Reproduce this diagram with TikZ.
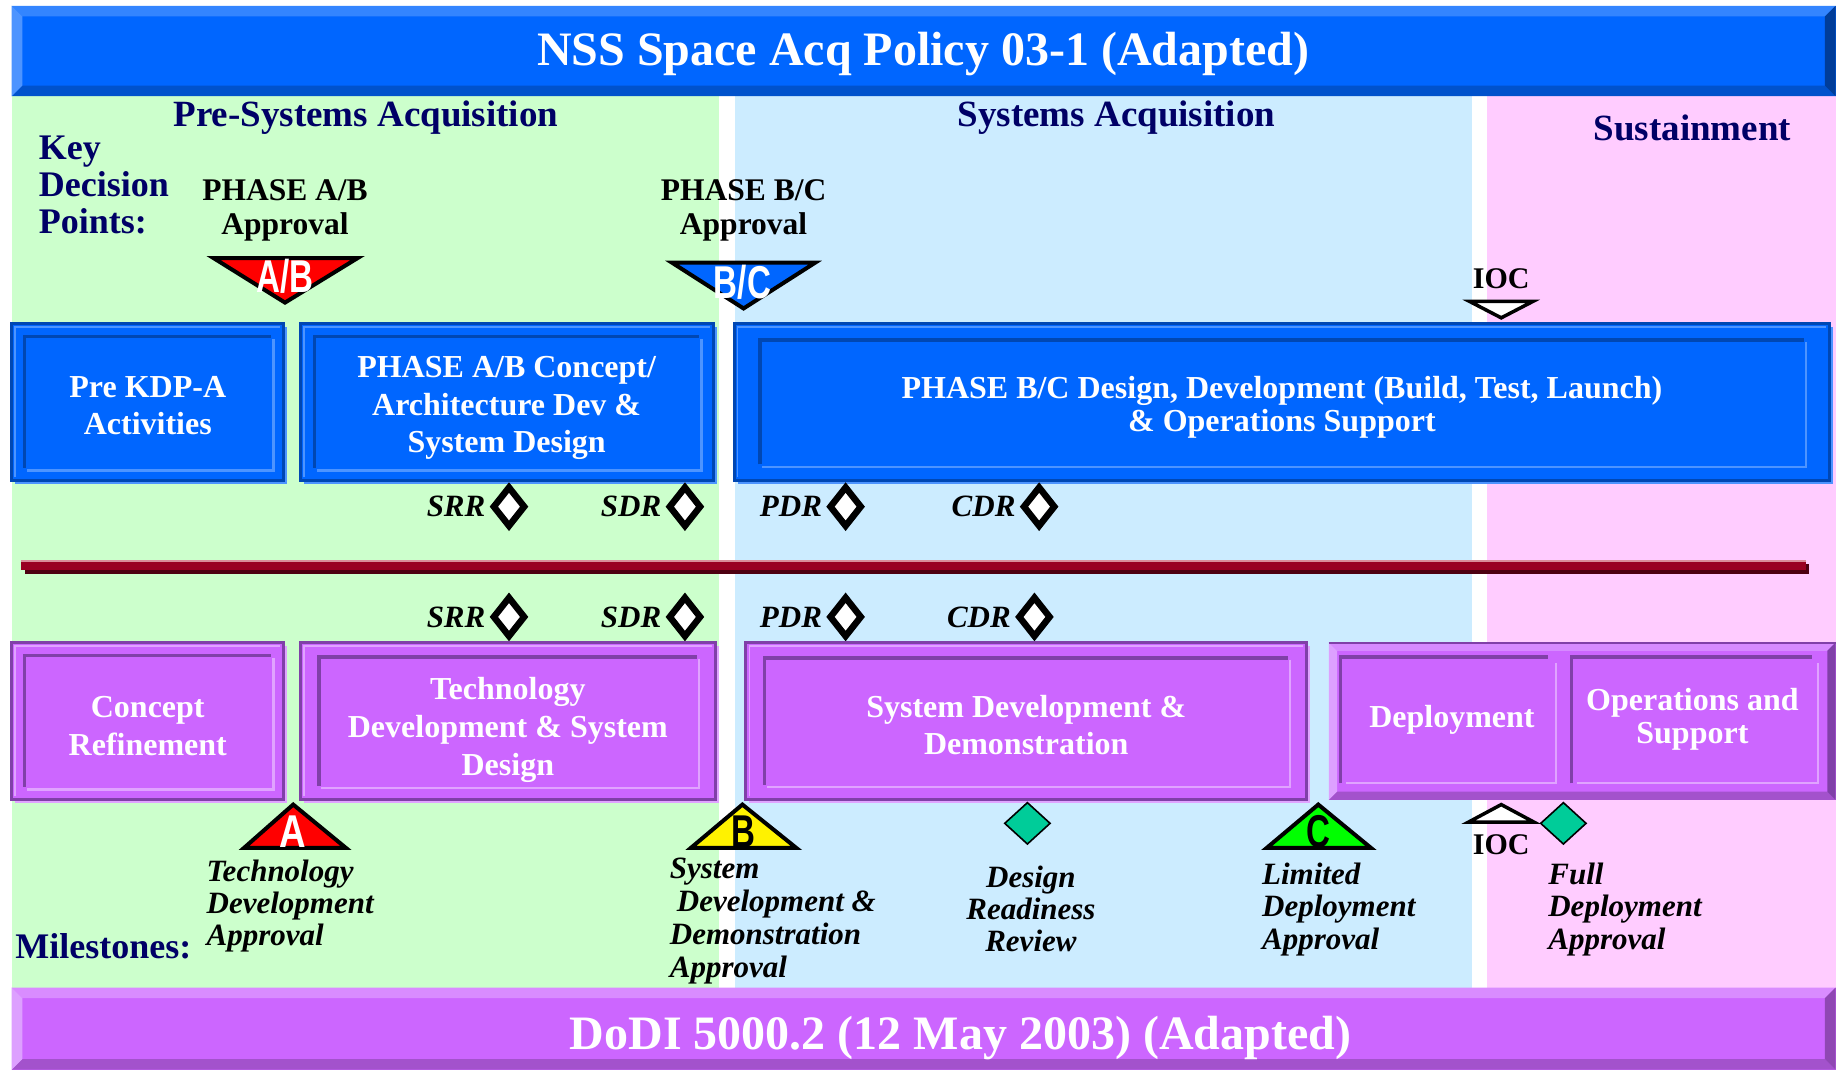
\documentclass[tikz,border=0pt]{standalone}
\usepackage{fontspec}
\setmainfont{Liberation Serif}
\newfontfamily\lettersans{Liberation Sans}
\usetikzlibrary{shapes.geometric}

% palette
\definecolor{navytxt}{HTML}{000066}
\definecolor{presys}{HTML}{CCFFCC}
\definecolor{sysacq}{HTML}{CCECFF}
\definecolor{sustain}{HTML}{FFCCFF}
\definecolor{nssmain}{HTML}{0066FF}
\definecolor{nsstop}{HTML}{3385FF}
\definecolor{nssleft}{HTML}{4D94FF}
\definecolor{nssbot}{HTML}{0052CC}
\definecolor{nssright}{HTML}{003D99}
\definecolor{dodmain}{HTML}{CC66FF}
\definecolor{dodtop}{HTML}{D98CFF}
\definecolor{dodleft}{HTML}{DDA0FF}
\definecolor{dodbot}{HTML}{A352CC}
\definecolor{dodright}{HTML}{8F47B3}
\definecolor{grpmain}{HTML}{CC66FF}
\definecolor{grptop}{HTML}{D68AFF}
\definecolor{grpleft}{HTML}{DDA0FF}
\definecolor{grpbot}{HTML}{A352CC}
\definecolor{grpright}{HTML}{8040A8}
\definecolor{bxdark}{HTML}{0047B3}
\definecolor{bxlight}{HTML}{4D94FF}
\definecolor{pxdark}{HTML}{8040A8}
\definecolor{pxlight}{HTML}{E0A3FF}
\definecolor{redbar}{HTML}{990022}
\definecolor{redhi}{HTML}{D98C99}
\definecolor{redlo}{HTML}{4D0011}
\definecolor{tealms}{HTML}{00CC99}
\definecolor{limeg}{HTML}{00FF00}

% bevelled banner: x1 y1 x2 y2 bevel-width colour-prefix
\newcommand\bevel[6]{%
  \fill[#6main] (#1,#2) rectangle (#3,#4);
  \fill[#6top] (#1,#2) -- (#3,#2) -- ({#3-#5},{#2+#5}) -- ({#1+#5},{#2+#5}) -- cycle;
  \fill[#6bot] (#1,#4) -- (#3,#4) -- ({#3-#5},{#4-#5}) -- ({#1+#5},{#4-#5}) -- cycle;
  \fill[#6left] (#1,#2) -- ({#1+#5},{#2+#5}) -- ({#1+#5},{#4-#5}) -- (#1,#4) -- cycle;
  \fill[#6right] (#3,#2) -- ({#3-#5},{#2+#5}) -- ({#3-#5},{#4-#5}) -- (#3,#4) -- cycle;
}

% phase box with an inset panel: x1 y1 x2 y2 inset-x inset-y fill dark light
\newcommand\bevbox[9]{%
  \fill[#9] ({#1+3},{#2+3}) rectangle ({#3+3},{#4+3});
  \fill[#7] (#1,#2) rectangle (#3,#4);
  \draw[#8, line width=3pt] (#1,#2) rectangle (#3,#4);
  \draw[#9, line width=1.5pt] ({#1+3},{#4-3}) -- ({#1+3},{#2+3}) -- ({#3-3},{#2+3});
  \draw[#8, line width=3.5pt] ({#1+#5},{#4-#6}) -- ({#1+#5},{#2+#6}) -- ({#3-#5},{#2+#6});
  \draw[#9, line width=2.5pt] ({#1+#5+2},{#4-#6+2}) -- ({#3-#5+2},{#4-#6+2}) -- ({#3-#5+2},{#2+#6+2});
}

\begin{document}
\begin{tikzpicture}[x=1.1728pt, y=-1.1728pt,
  txt/.style={inner sep=0pt},
  bannertxt/.style={txt, text=white, font=\fontsize{48}{50}\selectfont\bfseries},
  phasehd/.style={txt, text=navytxt, font=\fontsize{37}{40}\selectfont\bfseries},
  sidehd/.style={txt, text=navytxt, font=\fontsize{36}{37}\selectfont\bfseries, align=left},
  apprv/.style={txt, font=\fontsize{31.5}{34}\selectfont\bfseries, align=center},
  boxtxt/.style={txt, text=white, font=\fontsize{32}{37.5}\selectfont\bfseries, align=center},
  revlbl/.style={txt, font=\fontsize{31}{33}\selectfont\bfseries\itshape},
  mslbl/.style={txt, font=\fontsize{31}{32.3}\selectfont\bfseries\itshape, align=left},
  trilbl/.style={txt, font=\fontsize{46}{46}\selectfont\lettersans\bfseries},
  revdia/.style={diamond, draw=black, fill=white, line width=6.5pt, inner sep=0pt,
    minimum width=33pt, minimum height=41pt},
  msdia/.style={diamond, draw=black, fill=tealms, line width=1.6pt, inner sep=0pt,
    minimum width=46pt, minimum height=42pt},
  tri/.style={draw=black, line width=4pt},
]
\useasboundingbox (0,0) rectangle (1568,915);

% phase columns
\fill[presys] (10,82) rectangle (613,842);
\fill[sysacq] (627,82) rectangle (1255,842);
\fill[sustain] (1268,82) rectangle (1565,842);

% banners
\bevel{10}{5}{1565}{82}{9}{nss}
\bevel{10}{842}{1565}{912}{9}{dod}
\node[bannertxt] (nsstitle) at (787,46) {NSS Space Acq Policy 03-1 (Adapted)};
\node[bannertxt] (dodtitle) at (819,885) {DoDI 5000.2 (12 May 2003) (Adapted)};

% column headings
\node[phasehd] (presyshd) at (312,100) {Pre-Systems Acquisition};
\node[phasehd] (syshd) at (952,100) {Systems Acquisition};
\node[phasehd] (sushd) at (1443,109) {Sustainment};
\node[sidehd, anchor=west] (kdphd) at (33,158) {Key\\Decision\\Points:};

% key decision points
\node[apprv] (abapp) at (243,179) {PHASE A/B\\Approval};
\node[apprv] (bcapp) at (634,179) {PHASE B/C\\Approval};
\filldraw[tri, fill=red] (182,220) -- (305,220) -- (243,258) -- cycle;
\node[trilbl, text=white] (kdpab) at (243,236) {\scalebox{0.72}[1]{A/B}};
\filldraw[tri, fill=nssmain] (573,224) -- (695,224) -- (634,263) -- cycle;
\node[trilbl, text=white] (kdpbc) at (633,241) {\scalebox{0.72}[1]{B/C}};
\node[apprv, font=\fontsize{30}{32}\selectfont\bfseries] (iocup) at (1280,238) {IOC};
\filldraw[tri, line width=3.5pt, fill=white] (1253,257) -- (1307,257) -- (1280,271) -- cycle;

% NSS phases
\bevbox{10}{276}{242}{410}{11}{11}{nssmain}{bxdark}{bxlight}
\bevbox{256}{276}{608}{410}{12}{11}{nssmain}{bxdark}{bxlight}
\bevbox{626}{276}{1560}{410}{22}{14}{nssmain}{bxdark}{bxlight}
\node[boxtxt] (prekdp) at (126,346) {Pre KDP-A\\Activities};
\node[boxtxt] (phab) at (432,348) {PHASE A/B Concept/\\Architecture Dev \&\\System Design};
\node[boxtxt, font=\fontsize{32}{33}\selectfont\bfseries] (phbc) at (1093,347)
  {PHASE B/C Design, Development (Build, Test, Launch)\\\& Operations Support};

% design reviews, upper row
\node[revdia] (srrA) at (434,432) {};
\node[revdia] (sdrA) at (584,432) {};
\node[revdia] (pdrA) at (721,432) {};
\node[revdia] (cdrA) at (886,432) {};
\node[revlbl, anchor=east] (srrAl) at (414,432) {SRR};
\node[revlbl, anchor=east] (sdrAl) at (564,432) {SDR};
\node[revlbl, anchor=east] (pdrAl) at (701,432) {PDR};
\node[revlbl, anchor=east] (cdrAl) at (866,432) {CDR};

% separator bar
\fill[redlo] (21,481) rectangle (1542,489);
\fill[redbar] (18,478) rectangle (1540,486);
\fill[redhi] (18,477.5) rectangle (1540,479.3);

% design reviews, lower row
\node[revdia] (srrB) at (434,526) {};
\node[revdia] (sdrB) at (584,526) {};
\node[revdia] (pdrB) at (721,526) {};
\node[revdia] (cdrB) at (882,526) {};
\node[revlbl, anchor=east] (srrBl) at (414,526) {SRR};
\node[revlbl, anchor=east] (sdrBl) at (564,526) {SDR};
\node[revlbl, anchor=east] (pdrBl) at (701,526) {PDR};
\node[revlbl, anchor=east] (cdrBl) at (862,526) {CDR};

% DoDI phases
\bevbox{10}{548}{242}{682}{11}{11}{dodmain}{pxdark}{pxlight}
\bevbox{256}{548}{610}{682}{16}{12}{dodmain}{pxdark}{pxlight}
\bevbox{636}{548}{1114}{682}{16}{13}{dodmain}{pxdark}{pxlight}
\bevel{1133}{548}{1565}{682}{7}{grp}
\draw[pxdark, line width=2pt] (1133,548) -- (1565,548);
\draw[pxdark, line width=3.5pt] (1143,668) -- (1143,560) -- (1320,560);
\draw[pxlight, line width=2pt] (1148,668) -- (1327,668) -- (1327,565);
\draw[pxdark, line width=3.5pt] (1340,668) -- (1340,560) -- (1545,560);
\draw[pxlight, line width=2pt] (1345,668) -- (1550,668) -- (1550,565);
\node[boxtxt] (concref) at (126,619) {Concept\\Refinement};
\node[boxtxt, font=\fontsize{32}{38}\selectfont\bfseries] (techdev) at (433,622) {Technology\\Development \& System\\Design};
\node[boxtxt] (sdd) at (875,618) {System Development \&\\Demonstration};
\node[boxtxt] (deploy) at (1238,614) {Deployment};
\node[boxtxt, font=\fontsize{32}{33}\selectfont\bfseries] (opsup) at (1443,613) {Operations and\\Support};

% milestones
\filldraw[tri, fill=red] (208,723) -- (295,723) -- (250,686) -- cycle;
\node[trilbl, text=white] (msA) at (250,709) {\scalebox{0.8}[1]{A}};
\filldraw[tri, fill=yellow] (589,723) -- (679,723) -- (633,686) -- cycle;
\node[trilbl, text=black] (msB) at (634,709) {\scalebox{0.72}[1]{B}};
\filldraw[tri, fill=limeg] (1080,723) -- (1169,723) -- (1124,686) -- cycle;
\node[trilbl, text=black] (msC) at (1124,709) {\scalebox{0.72}[1]{C}};
\filldraw[tri, line width=3.5pt, fill=white] (1252,701) -- (1308,701) -- (1280,686) -- cycle;
\node[apprv, font=\fontsize{30}{32}\selectfont\bfseries] (iocdn) at (1280,720) {IOC};
\node[msdia] (drr) at (876,702) {};
\node[msdia] (fda) at (1333,702) {};

\node[mslbl, anchor=west] (msAl) at (176,772.5) {Technology\\Development\\Approval};
\node[mslbl, anchor=west, font=\fontsize{31}{33}\selectfont\bfseries\itshape] (msBl) at (571,785)
  {System\\\hspace*{7pt}Development \&\\Demonstration\\Approval};
\node[mslbl, align=center] (drrl) at (879,775) {Design\\Readiness\\Review};
\node[mslbl, anchor=west] (msCl) at (1076,775.5) {Limited\\Deployment\\Approval};
\node[mslbl, anchor=west] (fdal) at (1320,775.5) {Full\\Deployment\\Approval};
\node[sidehd, anchor=west] (msthd) at (13,807) {Milestones:};
\end{tikzpicture}
\end{document}
